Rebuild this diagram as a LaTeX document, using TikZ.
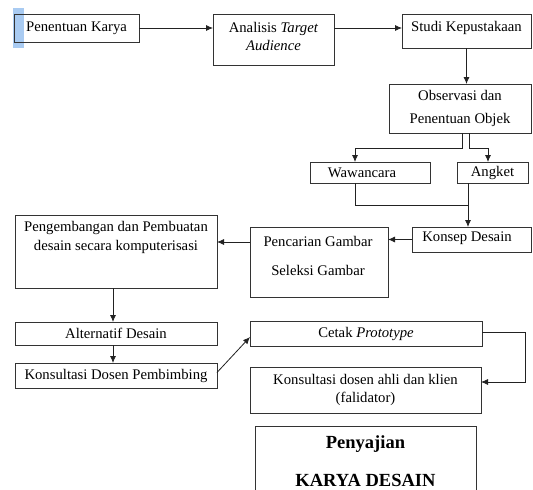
\documentclass[tikz,border=0pt]{standalone}
\usepackage{fontspec}
\setmainfont{Liberation Serif}
\usetikzlibrary{arrows.meta,calc}
\definecolor{boxc}{HTML}{333333}
\definecolor{linec}{HTML}{222222}
\definecolor{selblue}{HTML}{A9CBF2}
\begin{document}
\begin{tikzpicture}[x=1pt,y=-1pt,
  box/.style={draw=boxc, line width=0.8pt, inner sep=0pt, outer sep=0pt, align=center,
    font=\fontsize{14.7}{17.5}\selectfont, text=black},
  conn/.style={draw=linec, line width=0.8pt},
  arr/.style={conn, -{Latex[length=7pt,width=6pt]}},
  txt/.style={inner sep=0pt, align=center, font=\fontsize{14.7}{17.5}\selectfont}]
\clip (0,0) rectangle (533,490);
\fill[white] (0,0) rectangle (533,490);
\fill[selblue] (13,8) rectangle (24,48);
% boxes
\node[box, minimum width=125pt, minimum height=28pt] (pk) at (76.5,28) {Penentuan Karya};
\node[box, minimum width=121pt, minimum height=51pt] (an) at (273.5,39.5) {};
\node[txt] (antxt) at (273.5,36.5) {Analisis \textit{Target}\\\textit{Audience}};
\node[box, minimum width=129pt, minimum height=34pt] (sk) at (466.5,31) {};
\node[txt] (sktxt) at (466.5,27.5) {Studi Kepustakaan};
\node[box, minimum width=142pt, minimum height=49pt, font=\fontsize{14.7}{23}\selectfont] (ob) at (460,108.5) {Observasi dan\\Penentuan Objek};
\node[box, minimum width=120pt, minimum height=21pt] (ww) at (370,172.5) {};
\node[txt] (wwtxt) at (362,172.5) {Wawancara};
\node[box, minimum width=71pt, minimum height=21pt] (ag) at (492.5,172.5) {Angket};
\node[box, minimum width=119pt, minimum height=25pt] (kd) at (471.5,239.5) {};
\node[txt] (kdtxt) at (467,238.5) {Konsep Desain};
\node[box, minimum width=138pt, minimum height=70pt] (pg) at (319,262) {};
\node[txt, font=\fontsize{14.7}{29}\selectfont] (pgtxt) at (318,255.5) {Pencarian Gambar\\Seleksi Gambar};
\node[box, minimum width=202pt, minimum height=73pt] (pp) at (116,251.5) {};
\node[txt, font=\fontsize{14.7}{19.5}\selectfont] (pptxt) at (116,237.5) {Pengembangan dan Pembuatan\\desain secara komputerisasi};
\node[box, minimum width=202pt, minimum height=23pt] (ad) at (116,333.5) {Alternatif Desain};
\node[box, minimum width=202pt, minimum height=25pt] (kp) at (116,375.5) {Konsultasi Dosen Pembimbing};
\node[box, minimum width=232pt, minimum height=25pt] (cp) at (366,333.5) {Cetak \textit{Prototype}};
\node[box, minimum width=231pt, minimum height=46pt, font=\fontsize{14.7}{18}\selectfont] (ka) at (365.5,390) {Konsultasi dosen ahli dan klien\\(falidator)};
\node[box, minimum width=221pt, minimum height=74pt] (py) at (365.5,463) {};
\node[txt, font=\fontsize{18.5}{38}\selectfont\bfseries] (pytxt) at (365.5,461) {Penyajian\\KARYA DESAIN};
% connectors
\draw[arr] (pk.east) -- (pk.east -| an.west);
\draw[arr] (pk.east -| an.east) -- (pk.east -| sk.west);
\draw[arr] (sk.south) -- (sk.south |- ob.north);
\coordinate (sL) at ($(ob.south)+(2,0)$);
\coordinate (sR) at ($(ob.south)+(9,0)$);
\draw[arr] (sL) -- ++(0,15) -| ($(ww.north)+(-15,0)$);
\draw[arr] (sR) -- ++(0,15) -| ($(ag.north)+(-4.5,0)$);
\coordinate (mj) at ($(kd.north)+(-3.5,-22)$);
\draw[conn] ($(ww.south)+(-15,0)$) |- (mj);
\draw[conn] (ag.south -| mj) -- (mj);
\draw[arr] (mj) -- (mj |- kd.north);
\draw[arr] (kd.west) -- (kd.west -| pg.east);
\coordinate (pgw) at ($(pg.west)+(0,-20)$);
\draw[arr] (pgw) -- (pgw -| pp.east);
\coordinate (pps) at ($(pp.south)+(-3,0)$);
\draw[arr] (pps) -- (pps |- ad.north);
\coordinate (ads) at ($(ad.south)+(-3,0)$);
\draw[arr] (ads) -- (ads |- kp.north);
\draw[arr] ($(kp.east)+(0,-3)$) -- ($(cp.west)+(0,3.5)$);
\coordinate (cpe) at ($(cp.east)+(0,-1.5)$);
\draw[arr] (cpe) -- ++(43,0) |- ($(ka.east)+(0,-8)$);
\end{tikzpicture}
\end{document}
